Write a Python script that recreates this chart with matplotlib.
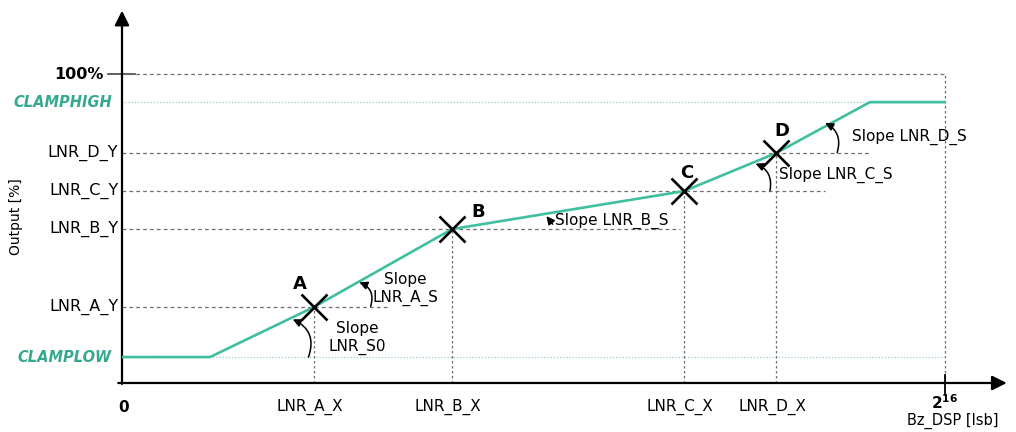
import matplotlib.pyplot as plt

plt.rcParams['font.family'] = ['DejaVu Sans']

# transfer curve: x in lsb, y in % of full scale
x_full = 65536
clamp_low = 8.4
clamp_high = 90.9
clamp_low_end = 7010
clamp_high_start = 59560

point_names = ['A', 'B', 'C', 'D']
point_x = [15290, 26280, 44760, 52080]
point_y = [24.6, 49.8, 62.1, 74.4]
x_labels = ['LNR_A_X', 'LNR_B_X', 'LNR_C_X', 'LNR_D_X']
y_labels = ['LNR_A_Y', 'LNR_B_Y', 'LNR_C_Y', 'LNR_D_Y']

TEAL = '#3fbfa0'
TEAL_TXT = '#35a98f'
GREY = '#6f6f6f'
FS = 11

curve_x = [0, clamp_low_end] + point_x + [clamp_high_start, x_full]
curve_y = [clamp_low, clamp_low] + point_y + [clamp_high, clamp_high]

fig = plt.figure(figsize=(10.16, 4.32), dpi=100)
ax = fig.add_axes([0, 0, 1, 1])
ax.set_xlim(-9715, 71190)
ax.set_ylim(-15.86, 123.95)
ax.axis('off')

# axes with arrow heads
ax.annotate('', xy=(0, 120.5), xytext=(0, -0.3),
            arrowprops=dict(arrowstyle='-|>', color='black', lw=1.6,
                            mutation_scale=22, shrinkA=0, shrinkB=0))
ax.annotate('', xy=(70450, 0), xytext=(-300, 0),
            arrowprops=dict(arrowstyle='-|>', color='black', lw=1.6,
                            mutation_scale=22, shrinkA=0, shrinkB=0))

# 100% and 2^16 reference lines
ax.plot([-1100, 1000], [100, 100], color='#444444', lw=1.2)
ax.plot([0, x_full], [100, 100], color=GREY, lw=0.9, ls=(0, (3, 2.5)))
ax.plot([x_full, x_full], [0, 100], color=GREY, lw=0.9, ls=(0, (2, 2)))
ax.plot([x_full, x_full], [-4, 2.5], color='black', lw=1.3)

# clamp levels
for lvl in (clamp_low, clamp_high):
    ax.plot([0, x_full], [lvl, lvl], color='#9fcfc2', lw=0.9, ls=(0, (1, 1.5)))

# guide lines for the breakpoints
guide_end = [21340, 44430, 55980, 59560]
for px, py, ge in zip(point_x, point_y, guide_end):
    ax.plot([0, ge], [py, py], color=GREY, lw=0.9, ls=(0, (3, 2.5)))
    ax.plot([px, px], [0, py], color=GREY, lw=0.9, ls=(0, (2, 2)))

ax.plot(curve_x, curve_y, color=TEAL, lw=1.9, solid_capstyle='butt', zorder=3)
ax.plot(point_x, point_y, ls='none', marker='x', color='black',
        markersize=19, mew=1.9, zorder=4)

name_off = [(-1130, 7.4), (2070, 5.5), (180, 5.9), (480, 7.1)]
for n, px, py, (dx, dy) in zip(point_names, point_x, point_y, name_off):
    ax.text(px + dx, py + dy, n, fontsize=13, fontweight='bold',
            ha='center', va='center')

# y labels
ax.text(-1450, 100, '100%', fontsize=11.5, fontweight='bold', ha='right', va='center')
for lbl, lvl in (('CLAMPHIGH', clamp_high), ('CLAMPLOW', clamp_low)):
    ax.text(-800, lvl, lbl, fontsize=10.5, fontweight='bold', style='italic',
            color=TEAL_TXT, ha='right', va='center')
for lbl, py in zip(y_labels, point_y):
    ax.text(-300, py, lbl, fontsize=11.5, ha='right', va='center')
ax.text(-8450, 54, 'Output [%]', fontsize=10, rotation=90, ha='center', va='center')

# x labels
ax.text(160, -7.8, '0', fontsize=11, fontweight='bold', ha='center', va='center')
for lbl, px in zip(x_labels, point_x):
    ax.text(px - 300, -7.8, lbl, fontsize=FS, ha='center', va='center')
ax.text(x_full, -6.4, r'$\mathbf{2^{16}}$', fontsize=11, ha='center', va='center')
ax.text(x_full + 600, -12.4, 'Bz_DSP [lsb]', fontsize=10.5, ha='center', va='center')

# slope annotations
slopes = [
    ('Slope\nLNR_S0', (18700, 14.6), 'center', (14850, 8.4), (13600, 20.6), 0.45),
    ('Slope\nLNR_A_S', (22600, 30.4), 'center', (19800, 24.8), (18900, 32.6), 0.45),
    ('Slope LNR_B_S', (34500, 52.6), 'left', (34300, 51.4), (33800, 54.0), 0.0),
    ('Slope LNR_C_S', (52350, 67.3), 'left', (51600, 62.3), (50450, 71.0), 0.4),
    ('Slope LNR_D_S', (58150, 79.8), 'left', (56950, 74.6), (56000, 84.2), 0.4),
]
for txt, pos, ha, start, end, rad in slopes:
    ax.text(pos[0], pos[1], txt, fontsize=FS, ha=ha, va='center',
            linespacing=1.2, multialignment='center')
    ax.annotate('', xy=end, xytext=start,
                arrowprops=dict(arrowstyle='-|>', color='black', lw=1.1,
                                mutation_scale=12, shrinkA=0, shrinkB=0,
                                connectionstyle=f'arc3,rad={rad}'))

fig.savefig('out.png', dpi=100)
